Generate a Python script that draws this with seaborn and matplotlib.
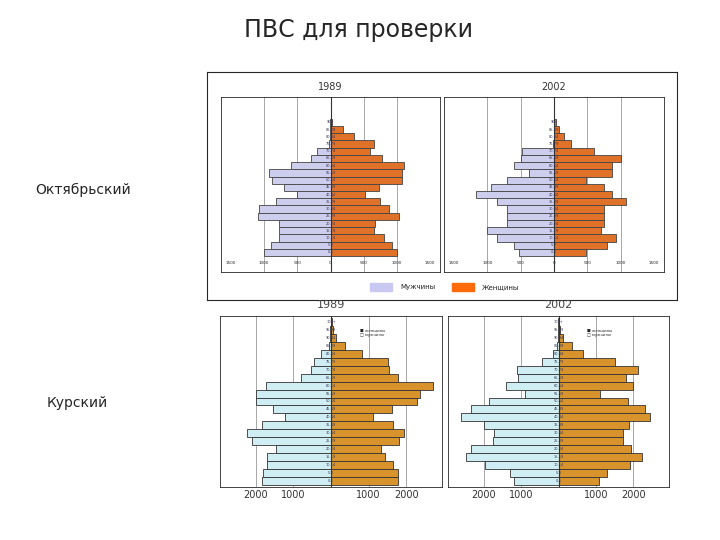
import numpy as np
import pandas as pd
import seaborn as sns
import matplotlib.pyplot as plt

# age groups, youngest first
ages_top = ["0-4", "5-9", "10-14", "15-19", "20-24", "25-29", "30-34", "35-39", "40-44",
            "45-49", "50-54", "55-59", "60-64", "65-69", "70-74", "75-79", "80-84", "85-89", "90+"]
ages_bot = ["0-4", "5-9", "10-14", "15-19", "20-24", "25-29", "30-34", "35-39", "40-44",
            "45-49", "50-54", "55-59", "60-64", "65-69", "70-74", "75-79", "80-84", "85-89",
            "90-94", "95-99", "100+"]

# Октябрьский
okt_men_1989 = [1000, 890, 775, 775, 775, 1100, 1075, 825, 500, 700, 885, 925, 600, 300, 200, 20, 10, 5, 3]
okt_wom_1989 = [1000, 925, 800, 650, 675, 1025, 875, 750, 525, 725, 1075, 1075, 1115, 775, 600, 650, 350, 190, 25]
okt_men_2002 = [525, 600, 850, 1000, 700, 700, 700, 850, 1175, 950, 700, 375, 600, 500, 475, 10, 5, 3, 2]
okt_wom_2002 = [475, 800, 925, 700, 750, 750, 750, 1075, 875, 750, 475, 875, 875, 1000, 600, 250, 150, 75, 25]

# Курский
kur_men_1989 = [1830, 1800, 1700, 1700, 1470, 2100, 2230, 1830, 1230, 1540, 1980, 2000, 1720, 790, 520, 460, 270, 45, 25, 15, 8]
kur_wom_1989 = [1770, 1770, 1650, 1430, 1320, 1810, 1950, 1650, 1120, 1610, 2280, 2370, 2720, 1790, 1540, 1520, 820, 360, 130, 40, 15]
kur_men_2002 = [1180, 1300, 1950, 2470, 2330, 1750, 1730, 1980, 2610, 2330, 1850, 890, 1410, 1070, 1120, 450, 140, 40, 25, 15, 8]
kur_wom_2002 = [1090, 1300, 1910, 2230, 1930, 1710, 1710, 1880, 2440, 2320, 1850, 1120, 1980, 1800, 2120, 1520, 650, 360, 110, 30, 10]

W, H = 720, 540
fig = plt.figure(figsize=(7.2, 5.4), dpi=100)
sns.set_style("white")
plt.rcParams["font.family"] = ["DejaVu Sans"]


def px_axes(x0, y0, x1, y1):
    return fig.add_axes([x0 / W, 1 - y1 / H, (x1 - x0) / W, (y1 - y0) / H])


def pyramid(ax, ages, men, wom, cm, cw, lim, ticks, edge, pad_top, pad_bot):
    order = ages[::-1]
    df = pd.DataFrame({"age": ages * 2, "val": [-m for m in men] + list(wom),
                       "sex": ["m"] * len(ages) + ["w"] * len(ages)})
    sns.barplot(data=df, x="val", y="age", hue="sex", order=order, dodge=False,
                palette={"m": cm, "w": cw}, width=1.0, edgecolor=edge, linewidth=0.6,
                legend=False, ax=ax)
    ax.set_xlim(-lim, lim)
    ax.set_ylim(len(ages) - 0.5 + pad_bot, -0.5 - pad_top)
    for t in ticks:
        ax.axvline(t, color="#999999", lw=0.6, zorder=0)
    ax.axvline(0, color="#333333", lw=0.8)
    for i, a in enumerate(order):
        ax.text(0, i, a, fontsize=2.5, ha="center", va="center", color="#333355")
    ax.set_xlabel("")
    ax.set_ylabel("")
    ax.set_yticks([])
    for s in ax.spines.values():
        s.set_linewidth(0.6)
    return ax


# slide title and row labels
fig.text(358 / W, 1 - 30 / H, "ПВС для проверки", fontsize=17, ha="center", va="center")
fig.text(35 / W, 1 - 190 / H, "Октябрьский", fontsize=10, va="center")
fig.text(47 / W, 1 - 403 / H, "Курский", fontsize=10, va="center")

# top image frame
frame_ax = px_axes(207, 72, 677, 300)
frame_ax.set_xticks([])
frame_ax.set_yticks([])
for s in frame_ax.spines.values():
    s.set_linewidth(0.8)

for (x0, x1), men, wom, yr in [((221, 440), okt_men_1989, okt_wom_1989, "1989"),
                               ((444, 664), okt_men_2002, okt_wom_2002, "2002")]:
    ax = px_axes(x0, 97, x1, 272)
    pyramid(ax, ages_top, men, wom, "#c8c8f2", "#ff6a0a", 1650, [-1000, -500, 500, 1000],
            "#444444", 3.0, 2.2)
    ax.set_xticks([-1500, -1000, -500, 0, 500, 1000, 1500])
    ax.set_xticklabels(["1500", "1000", "500", "0", "500", "1000", "1500"], fontsize=3)
    ax.tick_params(axis="x", pad=-8, length=0)
    fig.text((x0 + x1) / 2 / W, 1 - 87 / H, yr, fontsize=7, ha="center", va="center", color="#333333")

# top legend
fig.patches.append(plt.Rectangle((370 / W, 1 - 291 / H), 22 / W, 8 / H, color="#c8c8f2", transform=fig.transFigure))
fig.text(400 / W, 1 - 287 / H, "Мужчины", fontsize=5, va="center")
fig.patches.append(plt.Rectangle((452 / W, 1 - 291 / H), 22 / W, 8 / H, color="#ff6a0a", transform=fig.transFigure))
fig.text(482 / W, 1 - 287 / H, "Женщины", fontsize=5, va="center")

# bottom pyramids
for (x0, x1), men, wom, yr in [((220, 442), kur_men_1989, kur_wom_1989, "1989"),
                               ((448, 669), kur_men_2002, kur_wom_2002, "2002")]:
    ax = px_axes(x0, 316, x1, 487)
    pyramid(ax, ages_bot, men, wom, "#c8f2fa", "#f5980f", 2950, [-2000, -1000, 1000, 2000],
            "#333333", 0.2, 0.2)
    ax.set_xticks([-2000, -1000, 1000, 2000])
    ax.set_xticklabels(["2000", "1000", "1000", "2000"], fontsize=7, color="#333333")
    ax.tick_params(axis="x", length=0, pad=2)
    fig.text((x0 + x1) / 2 / W, 1 - 305 / H, yr, fontsize=8, ha="center", va="center", color="#444444")
    ax.text(0.63, 0.9, "■ женщины\n□ мужчины", fontsize=2.8, transform=ax.transAxes, va="center")

fig.savefig("out.png", dpi=100)
